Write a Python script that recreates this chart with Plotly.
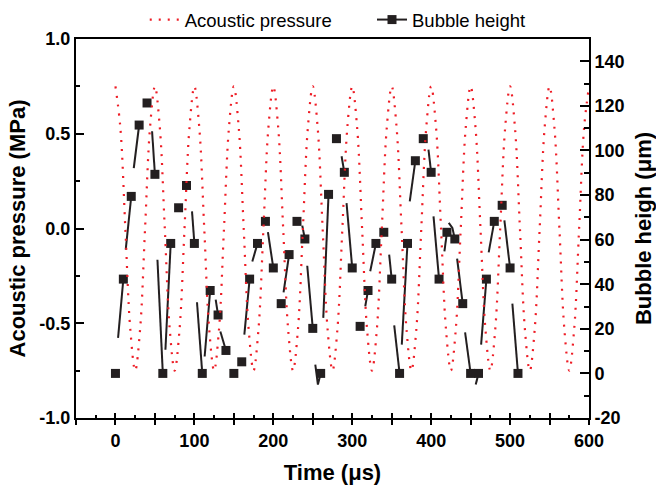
import plotly.graph_objects as go

# ---------------- data ----------------
p_time = [0, 6.25, 12.5, 18.75, 25, 31.25, 37.5, 43.75,
          50, 56.25, 62.5, 68.75, 75, 81.25, 87.5, 93.75,
          100, 106.25, 112.5, 118.75, 125, 131.25, 137.5, 143.75,
          150, 156.25, 162.5, 168.75, 175, 181.25, 187.5, 193.75,
          200, 206.25, 212.5, 218.75, 225, 231.25, 237.5, 243.75,
          250, 256.25, 262.5, 268.75, 275, 281.25, 287.5, 293.75,
          300, 306.25, 312.5, 318.75, 325, 331.25, 337.5, 343.75,
          350, 356.25, 362.5, 368.75, 375, 381.25, 387.5, 393.75,
          400, 406.25, 412.5, 418.75, 425, 431.25, 437.5, 443.75,
          450, 456.25, 462.5, 468.75, 475, 481.25, 487.5, 493.75,
          500, 506.25, 512.5, 518.75, 525, 531.25, 537.5, 543.75,
          550, 556.25, 562.5, 568.75, 575, 581.25, 587.5, 593.75,
          600]
p_value = [0.75, 0.53, 0, -0.53, -0.75, -0.53, 0, 0.53,
           0.75, 0.53, 0, -0.53, -0.75, -0.53, 0, 0.53,
           0.75, 0.53, 0, -0.53, -0.75, -0.53, 0, 0.53,
           0.75, 0.53, 0, -0.53, -0.75, -0.53, 0, 0.53,
           0.75, 0.53, 0, -0.53, -0.75, -0.53, 0, 0.53,
           0.75, 0.53, 0, -0.53, -0.75, -0.53, 0, 0.53,
           0.75, 0.53, 0, -0.53, -0.75, -0.53, 0, 0.53,
           0.75, 0.53, 0, -0.53, -0.75, -0.53, 0, 0.53,
           0.75, 0.53, 0, -0.53, -0.75, -0.53, 0, 0.53,
           0.75, 0.53, 0, -0.53, -0.75, -0.53, 0, 0.53,
           0.75, 0.53, 0, -0.53, -0.75, -0.53, 0, 0.53,
           0.75, 0.53, 0, -0.53, -0.75, -0.53, 0, 0.53,
           0.75]

bub_t = [0, 10, 20, 30, 40, 50, 60, 70, 80, 90,
         100, 110, 120, 130, 140, 150, 160, 170, 180, 190,
         200, 210, 220, 230, 240, 250, 260, 270, 280, 290,
         300, 310, 320, 330, 340, 350, 360, 370, 380, 390,
         400, 410, 420, 430, 440, 450, 460, 470, 480, 490,
         500, 510]
bub_h = [0, 42.3, 79.4, 111.4, 121.3, 89.3, 0, 58.3, 74.3, 84.3,
         58.3, 0, 37.2, 26.2, 10.3, 0, 5.2, 42.3, 58.3, 68.2,
         47.3, 31.3, 53.3, 68.2, 60.3, 20.2, 0, 80.3, 105.3, 90.2,
         47.3, 21.1, 37.2, 58.3, 63.3, 42.3, 0, 58.3, 95.4, 105.3,
         90.2, 42.3, 63.3, 60.3, 31.3, 0, 0, 42.3, 68.2, 75.4,
         47.3, 0]

# start of the visible line piece leading into each marker (None = no piece)
seg_t0 = [None, 3.3, 13, 23.2, None, 46.4, 53.2, 63.3, None, None,
          97, 103.3, 113, 127, 132.9, None, None, 163.3, 173.4, None,
          193.2, None, 213, None, 236.7, 243, 253.2, 263.3, None, 286.5,
          292.8, None, 316.5, 322.8, None, 346.8, 353.2, 362.8, 372.9, None,
          396.6, 403, 416.8, 422.3, 432.9, 443, 456.5, 463.3, 472.9, None,
          492.8, 502.9]
seg_h0 = [None, 15.9, 55.5, 92.1, None, 108.6, 51, 10.6, None, None,
          72.7, 31.9, 7.6, 33.1, 18.8, None, None, 17.4, 50.2, None,
          63.4, None, 36.3, None, 66.3, 48.3, 3.9, 24.9, None, 97.4,
          76.4, None, 30.1, 45.8, None, 53.3, 21.5, 12.9, 77.2, None,
          100.4, 70.4, 54.7, 67.5, 51.5, 18.4, -5, 12.9, 54.3, None,
          68.6, 31.3]
# optional bend points inside a piece
seg_tm = {260: 256.5, 430: 426.9}
seg_hm = {260: -5, 430: 65.3}

x_tickvals = [-50, 0, 50, 100, 150, 200, 250, 300, 350, 400, 450, 500, 550, 600]
x_ticktext = ["", "0", "", "100", "", "200", "", "300", "", "400", "", "500", "", "600"]
p_tickvals = [-1.0, -0.5, 0.0, 0.5, 1.0]
p_ticktext = ["-1.0", "-0.5", "0.0", "0.5", "1.0"]
h_tickvals = [-20, 0, 20, 40, 60, 80, 100, 120, 140]
h_ticktext = ["-20", "0", "20", "40", "60", "80", "100", "120", "140"]

# ---------------- build ----------------
BLACK = "#231f20"
RED = "#ee1c25"
FONT = "Liberation Sans"

seg_x, seg_y = [], []
for t, h, t0, h0 in zip(bub_t, bub_h, seg_t0, seg_h0):
    if t0 is None:
        continue
    seg_x.append(t0)
    seg_y.append(h0)
    if t in seg_tm:
        seg_x.append(seg_tm[t])
        seg_y.append(seg_hm[t])
    seg_x += [t, None]
    seg_y += [h, None]

fig = go.Figure()

fig.add_trace(go.Scatter(x=seg_x, y=seg_y, mode="lines", yaxis="y",
                         line=dict(color=BLACK, width=2), showlegend=False,
                         hoverinfo="skip"))
fig.add_trace(go.Scatter(x=bub_t, y=bub_h, mode="markers", yaxis="y",
                         marker=dict(symbol="square", size=9, color=BLACK),
                         showlegend=False, name="Bubble height"))
fig.add_trace(go.Scatter(x=p_time, y=p_value, mode="lines", yaxis="y2",
                         line=dict(color=RED, width=2.2, dash="2px,7px",
                                   shape="spline", smoothing=1),
                         name="Acoustic pressure", legend="legend"))
fig.add_trace(go.Scatter(x=[None], y=[None], mode="lines+markers", yaxis="y",
                         line=dict(color=BLACK, width=2),
                         marker=dict(symbol="square", size=9, color=BLACK),
                         name="Bubble height", legend="legend2"))
# helper trace for inner tick overlay axis
fig.add_trace(go.Scatter(x=[None], y=[None], xaxis="x2", yaxis="y",
                         showlegend=False, hoverinfo="skip"))

tickfont = dict(family=FONT, size=18, color="black", weight="bold")
titlefont = dict(family=FONT, size=22, color="black", weight="bold")

fig.update_layout(
    width=656, height=485,
    margin=dict(l=76, r=67, t=39, b=67, autoexpand=False),
    paper_bgcolor="white", plot_bgcolor="white",
    xaxis=dict(range=[-50, 600], tickmode="array", tickvals=x_tickvals,
               ticktext=x_ticktext, ticks="outside", ticklen=5, tickwidth=2,
               tickcolor="black", showline=True, linewidth=2, linecolor="black",
               mirror=True, showgrid=False, zeroline=False, tickfont=tickfont,
               automargin=False,
               title=dict(text="Time (μs)", font=titlefont, standoff=15)),
    xaxis2=dict(range=[-50, 600], overlaying="x", anchor="y", tick0=0, dtick=50,
                ticks="inside", ticklen=5, tickwidth=2, tickcolor="black",
                showticklabels=False, showline=False, showgrid=False,
                zeroline=False, automargin=False,
                minor=dict(tick0=0, dtick=25, ticks="inside", ticklen=3,
                           tickwidth=1.5, tickcolor="black")),
    yaxis=dict(range=[-20, 150], side="right", tickmode="array",
               tickvals=h_tickvals, ticktext=h_ticktext, ticks="inside",
               ticklen=9, tickwidth=2, tickcolor="black", showline=True,
               linewidth=2, linecolor="black", showgrid=False, zeroline=False,
               tickfont=tickfont, automargin=False,
               minor=dict(tick0=0, dtick=10, ticks="inside", ticklen=5,
                          tickwidth=1.5, tickcolor="black"),
               title=dict(text="Bubble heigh (μm)", font=titlefont, standoff=14)),
    yaxis2=dict(range=[-1, 1], side="left", overlaying="y", tickmode="array",
                tickvals=p_tickvals, ticktext=p_ticktext, ticks="inside",
                ticklen=8, tickwidth=2, tickcolor="black", showline=True,
                linewidth=2, linecolor="black", showgrid=False, zeroline=False,
                tickfont=tickfont, automargin=False,
                minor=dict(tick0=0, dtick=0.25, ticks="inside", ticklen=4,
                           tickwidth=1.5, tickcolor="black"),
                title=dict(text="Acoustic pressure (MPa)", font=titlefont,
                           standoff=8)),
    legend=dict(orientation="h", x=0.134, xanchor="left", y=1.05,
                yanchor="middle", font=dict(family=FONT, size=18.5, color="black"),
                bgcolor="rgba(0,0,0,0)", borderwidth=0),
    legend2=dict(orientation="h", x=0.577, xanchor="left", y=1.05,
                 yanchor="middle", font=dict(family=FONT, size=18.5, color="black"),
                 bgcolor="rgba(0,0,0,0)", borderwidth=0),
)

fig.write_html("out.html",
               config={"displayModeBar": False},
               post_script="document.body.style.margin='0';"
                           "document.body.style.overflow='hidden';")
